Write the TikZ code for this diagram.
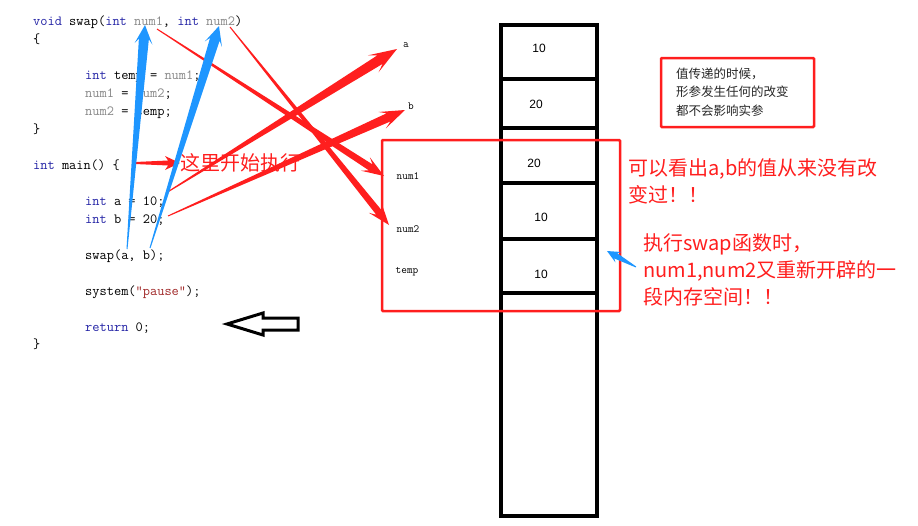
\documentclass[tikz,border=0pt]{standalone}
\usepackage{fontspec}
\newfontfamily\cjk{Noto Sans CJK SC}
\setsansfont{Liberation Sans}
\usetikzlibrary{calc}
\definecolor{kw}{RGB}{35,35,165}
\definecolor{prm}{RGB}{135,135,135}
\definecolor{str}{RGB}{160,40,40}
\definecolor{redmark}{RGB}{255,30,30}
\definecolor{sky}{RGB}{30,150,255}
\tikzset{
  code/.style={anchor=base west,inner sep=0pt,font=\fontsize{14}{14}\ttfamily},
  cellval/.style={inner sep=0pt,font=\fontsize{12}{12}\sffamily},
  varname/.style={inner sep=0pt,font=\fontsize{11}{11}\ttfamily},
  note/.style={anchor=west,inner sep=0pt,align=left,text=redmark,font=\fontsize{20}{27}\cjk},
  memline/.style={line width=4pt},
  redbox/.style={draw=redmark,line width=2.5pt,rounded corners=1pt}
}
\newcommand\kw[1]{\textcolor{kw}{#1}}
\newcommand\prm[1]{\textcolor{prm}{#1}}
% colour, from, to, start width, shaft width, head width, notch, barb
\newcommand\wedgearrow[8]{%
  \path ($(#3)!#7!(#2)$) coordinate (wn) ($(#3)!#8!(#2)$) coordinate (wb);
  \fill[fill=#1] ($(#2)!#4!90:(#3)$) -- ($(wn)!#5!90:(#3)$) -- ($(wb)!#6!90:(#3)$) -- (#3)
    -- ($(wb)!#6!-90:(#3)$) -- ($(wn)!#5!-90:(#3)$) -- ($(#2)!#4!-90:(#3)$) -- cycle;}
\begin{document}
\begin{tikzpicture}[x=1pt,y=-1pt]
  \useasboundingbox (0,0) rectangle (918,525);
  % the code
  \node[code] (sig) at (33,25) {\kw{void} swap(\kw{int} \prm{num1}, \kw{int} \prm{num2})};
  \node[code] (open1) at (33,43) {\{};
  \node[code] (ltemp) at (85,79) {\kw{int} temp = \prm{num1};};
  \node[code] (lnum1) at (85,97) {\prm{num1} = \prm{num2};};
  \node[code] (lnum2) at (85,115) {\prm{num2} = temp;};
  \node[code] (close1) at (33,133) {\}};
  \node[code] (main) at (33,169) {\kw{int} main() \{};
  \node[code] (la) at (85,205) {\kw{int} a = 10;};
  \node[code] (lb) at (85,223) {\kw{int} b = 20;};
  \node[code] (call) at (85,259) {swap(a, b);};
  \node[code] (sys) at (85,295) {system(\textcolor{str}{"pause"});};
  \node[code] (ret) at (85,331) {\kw{return} 0;};
  \node[code] (close2) at (33,348) {\}};
  % memory
  \draw[memline] (501,25) rectangle (597,516);
  \foreach \y in {79,128,183,239,293}
    \draw[memline] (501,\y) -- (597,\y);
  \node[cellval] (cell1) at (539,48) {10};
  \node[cellval] (cell2) at (536,104) {20};
  \node[cellval] (cell3) at (534,163) {20};
  \node[cellval] (cell4) at (541,217) {10};
  \node[cellval] (cell5) at (541,274) {10};
  \node[varname] (na) at (406,45) {a};
  \node[varname] (nb) at (411,106) {b};
  \node[varname] (nnum1) at (408,176) {num1};
  \node[varname] (nnum2) at (408,229) {num2};
  \node[varname] (ntemp) at (407,272) {temp};
  \draw[redbox] (382,140) rectangle (620,311);
  % notes
  \draw[redbox] (661,58) rectangle (814,127);
  \node[inner sep=0pt,anchor=west,align=left,text=black!85,font=\fontsize{12.5}{18.5}\cjk] (rule) at (676,92)
    {值传递的时候，\\形参发生任何的改变\\都不会影响实参};
  \node[note] (here) at (180,163) {这里开始执行};
  \node[note] (seen) at (628,181.5) {可以看出a,b的值从来没有改\\变过！！};
  \node[note] (newmem) at (643,270) {执行swap函数时，\\num1,num2又重新开辟的一\\段内存空间！！};
  % arrow ends
  \coordinate (pnum1) at (157,29);
  \coordinate (pnum2) at (230,27);
  \coordinate (vala) at (166,193);
  \coordinate (valb) at (168,216);
  \coordinate (mainb) at (135,163);
  \coordinate (arga) at (127,249);
  \coordinate (argb) at (150,248);
  \coordinate (tnum1) at (384,176);
  \coordinate (tnum2) at (389,225);
  \coordinate (ta) at (397,49);
  \coordinate (tb) at (405,110);
  \coordinate (tp1) at (145,25);
  \coordinate (tp2) at (219,26);
  \coordinate (tail) at (636,267);
  \coordinate (tcol) at (607,251);
  % arrows
  \wedgearrow{redmark}{pnum1}{tnum1}{0.5pt}{3.5pt}{8pt}{16pt}{22pt}
  \wedgearrow{redmark}{pnum2}{tnum2}{0.5pt}{3.5pt}{8pt}{16pt}{22pt}
  \wedgearrow{redmark}{vala}{ta}{0.5pt}{5pt}{10pt}{20pt}{28pt}
  \wedgearrow{redmark}{valb}{tb}{0.5pt}{4.5pt}{9pt}{18pt}{25pt}
  \wedgearrow{redmark}{mainb}{here.west}{1pt}{2.5pt}{7pt}{12pt}{15pt}
  \wedgearrow{sky}{arga}{tp1}{0.5pt}{5pt}{9pt}{14pt}{19pt}
  \wedgearrow{sky}{argb}{tp2}{0.5pt}{5pt}{9pt}{14pt}{19pt}
  \wedgearrow{sky}{tail}{tcol}{0.5pt}{3pt}{6pt}{10pt}{13pt}
  % return arrow
  \draw[line width=3pt] (227,324) -- (263,313) -- (263,318) -- (298,318) -- (298,330)
    -- (263,330) -- (263,335) -- cycle;
\end{tikzpicture}
\end{document}
